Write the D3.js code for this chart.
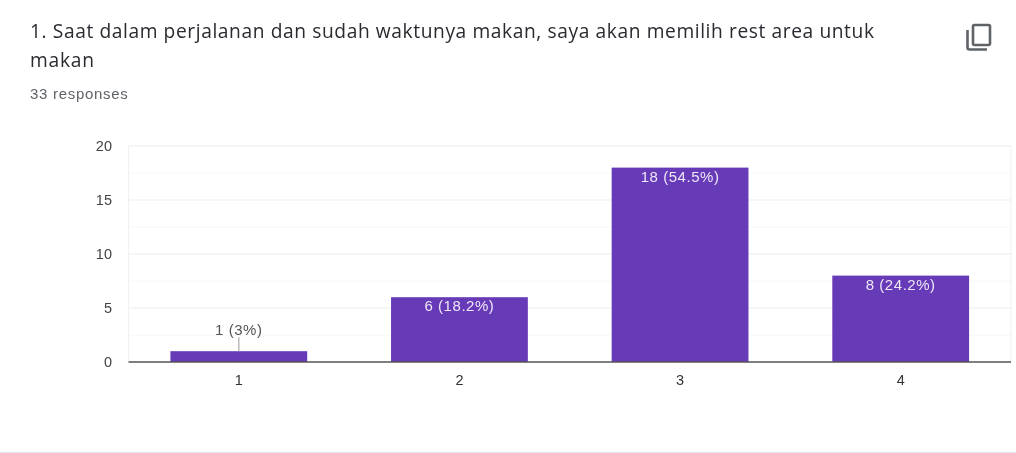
<!DOCTYPE html>
<html><head><meta charset="utf-8">
<script src="https://cdn.jsdelivr.net/npm/d3@7"></script>
<style>html,body{margin:0;padding:0;background:#fff;overflow:hidden}svg{display:block}
.blur{filter:blur(0.45px)}</style></head>
<body><svg id="c" width="1016" height="453"></svg>
<script>
const titleLines = ["1. Saat dalam perjalanan dan sudah waktunya makan, saya akan memilih rest area untuk", "makan"];
const subtitle = "33 responses";
const categories = ["1", "2", "3", "4"];
const values = [1, 6, 18, 8];
const labels = ["1 (3%)", "6 (18.2%)", "18 (54.5%)", "8 (24.2%)"];
const yTicks = [0, 5, 10, 15, 20];
const yMinor = [2.5, 7.5, 12.5, 17.5];

const svg = d3.select("#c");
const root = svg.append("g").attr("class", "blur");
const font = "'Liberation Sans', Arial, sans-serif";

const x = d3.scaleBand().domain(categories).range([128.5, 1011]).paddingInner(0.38).paddingOuter(0.19);
const y = d3.scaleLinear().domain([0, 20]).range([362, 146]);

root.selectAll("text.title").data(titleLines).join("text").attr("class", "title")
  .attr("x", 30).attr("y", (d, i) => 38 + i * 29)
  .attr("font-family", "'Open Sans', sans-serif").attr("font-size", 19.2).attr("fill", "#2a2a30")
  .attr("textLength", (d, i) => i === 0 ? 844 : 64).attr("lengthAdjust", "spacing").text(d => d);
root.append("text").attr("x", 30).attr("y", 99).attr("font-family", font).attr("font-size", 15)
  .attr("letter-spacing", 0.7).attr("fill", "#5f6368").text(subtitle);

// copy icon
const icon = root.append("g").attr("fill", "none").attr("stroke", "#5f6368").attr("stroke-width", 2.6);
icon.append("rect").attr("x", 973).attr("y", 25).attr("width", 17).attr("height", 20).attr("rx", 1.5);
icon.append("path").attr("d", "M967.5 30V47.5a2 2 0 0 0 2 2H987");

// grid
root.append("g").selectAll("line").data(yMinor).join("line")
  .attr("x1", 128.5).attr("x2", 1011).attr("y1", d => y(d)).attr("y2", d => y(d))
  .attr("stroke", "#f6f6f6").attr("stroke-width", 1);
root.append("g").selectAll("line").data(yTicks.filter(d => d > 0)).join("line")
  .attr("x1", 128.5).attr("x2", 1011).attr("y1", d => y(d)).attr("y2", d => y(d))
  .attr("stroke", "#eeeeee").attr("stroke-width", 1.2);
root.append("g").selectAll("line").data([128.5, 1011]).join("line")
  .attr("x1", d => d).attr("x2", d => d).attr("y1", y(20)).attr("y2", y(0))
  .attr("stroke", "#f1f1f1").attr("stroke-width", 1);

// y axis
const yAxis = d3.axisLeft(y).tickValues(yTicks).tickSize(0).tickPadding(0);
const gy = root.append("g").attr("transform", "translate(112,0)").call(yAxis);
gy.select(".domain").remove();
gy.selectAll("text").attr("font-family", font).attr("font-size", 14.5).attr("fill", "#444");

// bars
root.append("g").selectAll("rect").data(values).join("rect")
  .attr("x", (d, i) => x(categories[i])).attr("width", x.bandwidth())
  .attr("y", d => y(d)).attr("height", d => y(0) - y(d)).attr("fill", "#673ab7");

// baseline and x axis
const xAxis = d3.axisBottom(x).tickSize(0).tickPadding(0);
const gx = root.append("g").attr("transform", "translate(0,362)").call(xAxis);
gx.select(".domain").attr("stroke", "#555").attr("stroke-width", 1.4).attr("d", "M128.5,0H1011");
gx.selectAll("text").attr("font-family", font).attr("font-size", 14.5).attr("fill", "#333").attr("dy", "1.6em");

// value labels
const center = i => x(categories[i]) + x.bandwidth() / 2;
root.append("g").selectAll("text").data(values).join("text")
  .attr("x", (d, i) => center(i))
  .attr("y", (d, i) => d === 1 ? y(d) - 16 : y(d) + 14)
  .attr("text-anchor", "middle").attr("font-family", font).attr("font-size", 15)
  .attr("letter-spacing", 0.55)
  .attr("fill", d => d === 1 ? "#555" : "#ede7f6").text((d, i) => labels[i]);
root.append("g").selectAll("line").data(values.filter(d => d === 1)).join("line")
  .attr("x1", center(0)).attr("x2", center(0)).attr("y1", d => y(d) - 14).attr("y2", d => y(d))
  .attr("stroke", "#aaa").attr("stroke-width", 1.2);

// bottom divider
root.append("rect").attr("x", 0).attr("y", 452).attr("width", 1016).attr("height", 1).attr("fill", "#e4e4e8");
</script></body></html>
